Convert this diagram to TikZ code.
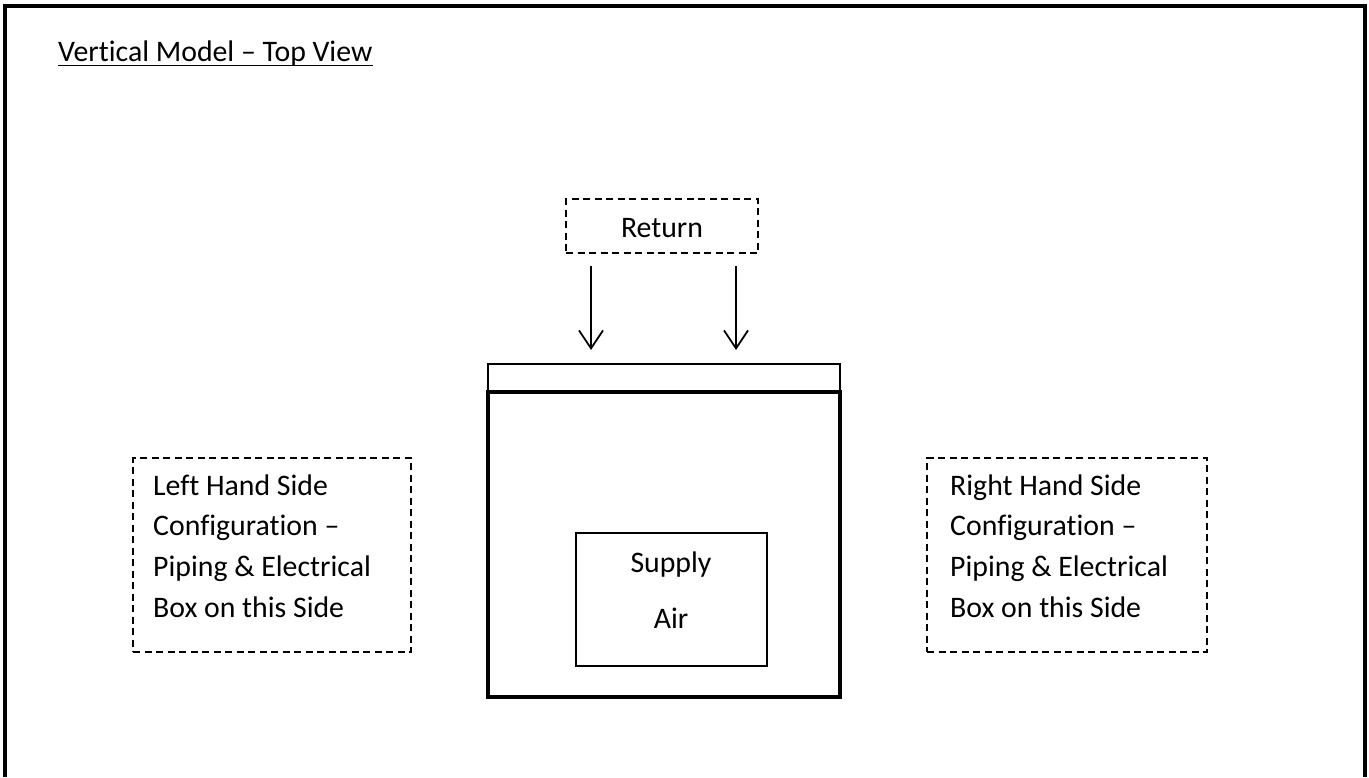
\documentclass[tikz,border=0pt]{standalone}
\usepackage{fontspec}
\setmainfont{Carlito}[Ligatures=NoCommon]
\usetikzlibrary{arrows.meta}
\tikzset{
  txt/.style={inner sep=0pt, font=\fontsize{29.8}{36}\selectfont},
  dashbox/.style={draw, line width=1.5pt, dash pattern=on 7pt off 4.5pt, inner sep=0pt},
  thinbox/.style={draw, line width=2pt, inner sep=0pt},
  thickbox/.style={draw, line width=3.5pt, inner sep=0pt},
  flow/.style={line width=1.8pt, -{Straight Barb[length=18pt,width=24pt,line width=1.8pt]}}
}
\begin{document}
\begin{tikzpicture}[x=1pt,y=-1pt]
\useasboundingbox (0,0) rectangle (1369,777);
% outer frame (open at bottom)
\draw[line width=4pt] (5.3,777) -- (5.3,5.7) -- (1365.3,5.7) -- (1365.3,777);
% title
\node[txt, anchor=base west] (title) at (58,61) {Vertical Model – Top View};
\draw[line width=1.8pt] ([yshift=-4.5pt]title.base west) -- ([yshift=-4.5pt]title.base east);
% return
\node[dashbox, minimum width=192pt, minimum height=54pt] (retbox) at (662,226) {};
\node[txt, anchor=base] (ret) at (662,237) {Return};
\coordinate (a1s) at (591,266);
\coordinate (a1e) at (591,350);
\coordinate (a2s) at (736,266);
\coordinate (a2e) at (736,350);
\draw[flow] (a1s) -- (a1e);
\draw[flow] (a2s) -- (a2e);
% unit
\node[thinbox, minimum width=352pt, minimum height=28pt] (strip) at (664,378) {};
\node[thickbox, minimum width=352pt, minimum height=305pt] (unit) at (664,544.5) {};
\node[draw, line width=1.5pt, inner sep=0pt, minimum width=191pt, minimum height=133pt] (supbox) at (671.5,599.5) {};
\node[txt, anchor=base] (sup1) at (671,572) {Supply};
\node[txt, anchor=base] (sup2) at (671,628) {Air};
% left side
\node[dashbox, minimum width=278pt, minimum height=194pt] (lbox) at (272,555) {};
\node[txt, anchor=base west] (l1) at (153,495) {Left Hand Side};
\node[txt, anchor=base west] (l2) at (153,535.7) {Configuration –};
\node[txt, anchor=base west] (l3) at (153,576.3) {Piping \& Electrical};
\node[txt, anchor=base west] (l4) at (153,617) {Box on this Side};
% right side
\node[dashbox, minimum width=280pt, minimum height=194pt] (rbox) at (1067,555) {};
\node[txt, anchor=base west] (r1) at (950,495) {Right Hand Side};
\node[txt, anchor=base west] (r2) at (950,535.7) {Configuration –};
\node[txt, anchor=base west] (r3) at (950,576.3) {Piping \& Electrical};
\node[txt, anchor=base west] (r4) at (950,617) {Box on this Side};
\end{tikzpicture}
\end{document}
